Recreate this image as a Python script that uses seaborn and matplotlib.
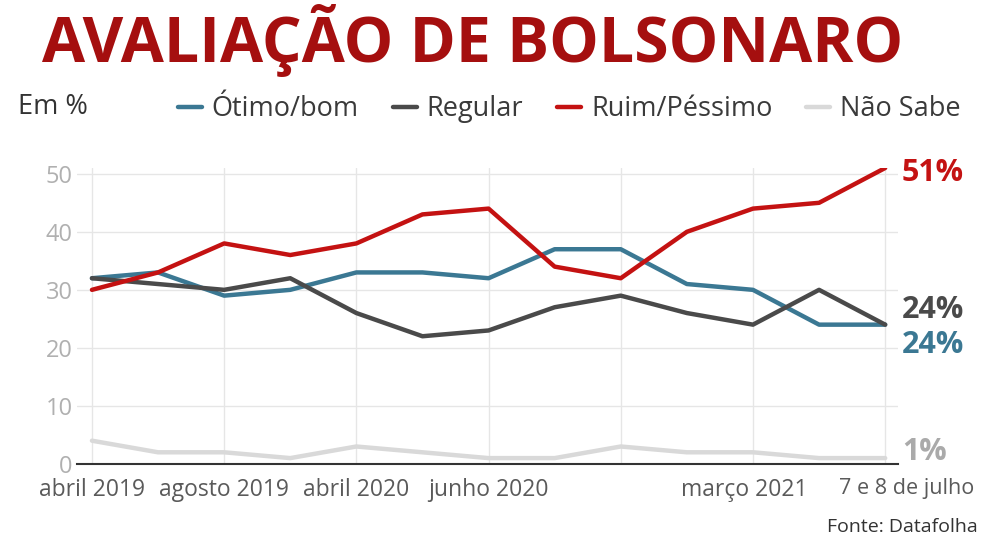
import matplotlib
matplotlib.use("Agg")
import matplotlib.pyplot as plt
import matplotlib.transforms as mtransforms
import seaborn as sns
import pandas as pd
from matplotlib.lines import Line2D

# dados (Datafolha, % )
pesquisas = list(range(13))
tick_pos = [0, 2, 4, 6, 8, 10, 12]
tick_labels = ["abril 2019", "agosto 2019", "abril 2020", "junho 2020", "", "março 2021", "7 e 8 de julho"]
otimo_bom = [32, 33, 29, 30, 33, 33, 32, 37, 37, 31, 30, 24, 24]
regular = [32, 31, 30, 32, 26, 22, 23, 27, 29, 26, 24, 30, 24]
ruim_pessimo = [30, 33, 38, 36, 38, 43, 44, 34, 32, 40, 44, 45, 51]
nao_sabe = [4, 2, 2, 1, 3, 2, 1, 1, 3, 2, 2, 1, 1]

series = ["Ótimo/bom", "Regular", "Ruim/Péssimo", "Não Sabe"]
cores = ["#3b7893", "#4a4a4a", "#c41212", "#d9d9d9"]

df = pd.DataFrame({
    "pesquisa": pesquisas * 4,
    "valor": otimo_bom + regular + ruim_pessimo + nao_sabe,
    "serie": [s for s in series for _ in pesquisas],
})

sns.set_style("white")
plt.rcParams["font.family"] = ["Open Sans", "DejaVu Sans"]

fig = plt.figure(figsize=(9.84, 5.49), dpi=100)
ax = fig.add_axes([0.078, 0.155, 0.835, 0.539])

# draw light gray first so colored lines sit on top
ordem = ["Não Sabe", "Ótimo/bom", "Regular", "Ruim/Péssimo"]
paleta = dict(zip(series, cores))
for s in ordem:
    sns.lineplot(data=df[df.serie == s], x="pesquisa", y="valor", color=paleta[s],
                 linewidth=3.2, ax=ax, legend=False)

ax.set_xlim(-0.23, 12.2)
ax.set_ylim(0, 51)
ax.set_xticks(tick_pos)
ax.set_xticklabels(tick_labels, fontsize=16.5, color="#5a5a5a")
ax.set_yticks([0, 10, 20, 30, 40, 50])
ax.set_yticklabels(["0", "10", "20", "30", "40", "50"], fontsize=17, color="#b0b0b0")
ax.tick_params(axis="x", length=0, pad=10)
ax.tick_params(axis="y", length=0, pad=3)
ax.set_xlabel("")
ax.set_ylabel("")
ax.grid(True, color="#e6e6e6", linewidth=1)
ax.set_axisbelow(True)
for sp in ["top", "right", "left"]:
    ax.spines[sp].set_visible(False)
ax.spines["bottom"].set_color("#333333")
ax.spines["bottom"].set_linewidth(1.5)

# last two labels are nudged like in the original
xlabels = ax.get_xticklabels()
xlabels[5].set_transform(xlabels[5].get_transform() +
                         mtransforms.ScaledTranslation(-9 / 100, 0, fig.dpi_scale_trans))
xlabels[6].set_fontsize(15.5)
xlabels[6].set_transform(xlabels[6].get_transform() +
                         mtransforms.ScaledTranslation(21 / 100, 0, fig.dpi_scale_trans))

# end labels
finais = [(ruim_pessimo[-1], "#c41212", -0.9), (regular[-1], "#4a4a4a", 2.5),
          (otimo_bom[-1], "#3b7893", -3.5), (nao_sabe[-1], "#aaaaaa", 1.1)]
for v, c, dy in finais:
    ax.annotate(f"{v}%", xy=(12, v + dy), xytext=(12, 0), textcoords="offset points",
                color=c, fontsize=22, fontweight="bold", va="center", ha="left",
                annotation_clip=False)

fig.text(0.48, 0.887, "AVALIAÇÃO DE BOLSONARO", ha="center", va="baseline",
         fontsize=45, fontweight="bold", color="#a50f0f")
fig.text(0.018, 0.805, "Em %", ha="left", va="center", fontsize=19.5, color="#333333")
fig.text(0.994, 0.04, "Fonte: Datafolha", ha="right", va="center", fontsize=14, color="#333333")

handles = [Line2D([0], [0], color=c, linewidth=3.2) for c in cores]
fig.legend(handles, series, loc="center left", bbox_to_anchor=(0.167, 0.801), ncol=4,
           frameon=False, borderpad=0, handlelength=0.9, handletextpad=0.35,
           columnspacing=1.25, prop={"size": 19.5}, labelcolor="#3a3a3a")

fig.savefig("out.png", dpi=100)
